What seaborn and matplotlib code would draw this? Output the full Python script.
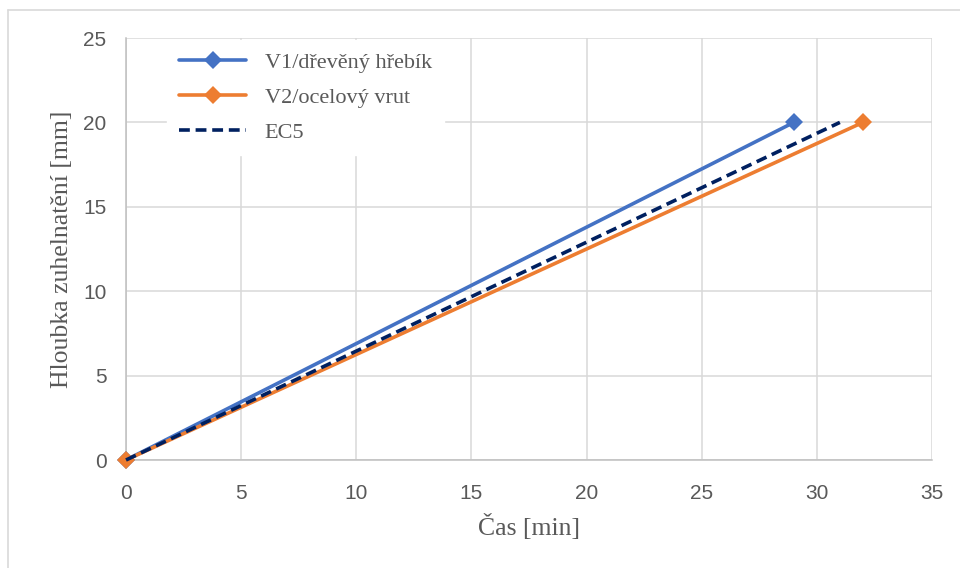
import matplotlib
matplotlib.use("Agg")
import matplotlib.pyplot as plt
import seaborn as sns
import pandas as pd
from matplotlib.lines import Line2D

# Data
v1_time = [0, 29]
v1_depth = [0, 20]
v2_time = [0, 32]
v2_depth = [0, 20]
ec5_time = [0, 31]
ec5_depth = [0, 20]
labels = ["V1/dřevěný hřebík", "V2/ocelový vrut", "EC5"]
x_ticks = [0, 5, 10, 15, 20, 25, 30, 35]
y_ticks = [0, 5, 10, 15, 20, 25]

sns.set_style("white")
plt.rcParams['font.family'] = ['Liberation Sans', 'DejaVu Sans']

fig = plt.figure(figsize=(9.6, 5.68), dpi=100)
ax = fig.add_axes([126/960, 1 - 460/568, 806/960, 422/568])

df1 = pd.DataFrame({"t": v1_time, "d": v1_depth})
df2 = pd.DataFrame({"t": v2_time, "d": v2_depth})
df3 = pd.DataFrame({"t": ec5_time, "d": ec5_depth})

c1, c2, c3 = "#4472C4", "#ED7D31", "#002060"
dash = (0, (3, 1.6))
sns.lineplot(data=df1, x="t", y="d", ax=ax, color=c1, lw=2.6, marker="D",
             markersize=9, markeredgewidth=0, zorder=3)
sns.lineplot(data=df2, x="t", y="d", ax=ax, color=c2, lw=2.6, marker="D",
             markersize=9, markeredgewidth=0, zorder=3)
sns.lineplot(data=df3, x="t", y="d", ax=ax, color=c3, lw=2.6, zorder=4,
             linestyle=dash)

ax.set_xlim(0, 35)
ax.set_ylim(0, 25)
ax.set_xticks(x_ticks)
ax.set_yticks(y_ticks)
ax.grid(True, color="#d9d9d9", lw=1.1)
ax.set_axisbelow(True)
for s in ["top", "right"]:
    ax.spines[s].set_visible(False)
for s in ["left", "bottom"]:
    ax.spines[s].set_color("#bfbfbf")
    ax.spines[s].set_linewidth(1.1)
ax.tick_params(axis="both", length=0, labelsize=15, labelcolor="#595959")
ax.tick_params(axis="y", pad=14)
ax.tick_params(axis="x", pad=17.5)
for lab in ax.get_xticklabels() + ax.get_yticklabels():
    lab.set_clip_on(False)
for line in ax.lines:
    line.set_clip_on(False)

serif = ["Liberation Serif", "DejaVu Serif"]
ax.set_xlabel("Čas [min]", family=serif, fontsize=18.5, color="#595959", labelpad=8)
ax.set_ylabel("Hloubka zuhelnatění [mm]", family=serif, fontsize=18.5, color="#595959", labelpad=7)

handles = [
    Line2D([], [], color=c1, lw=2.6, marker="D", markersize=9, markeredgewidth=0),
    Line2D([], [], color=c2, lw=2.6, marker="D", markersize=9, markeredgewidth=0),
    Line2D([], [], color=c3, lw=2.6, linestyle=dash),
]
leg = ax.legend(handles, labels, loc="upper left",
                bbox_to_anchor=((167 - 126) / 806, 1 - 2 / 422),
                prop={"family": serif, "size": 16}, frameon=True, fancybox=False,
                handlelength=3.0, handletextpad=0.85, labelspacing=0.65,
                borderpad=0.55, borderaxespad=0)
leg.get_frame().set_edgecolor("white")
leg.get_frame().set_facecolor("white")
leg.get_frame().set_alpha(1)
for t in leg.get_texts():
    t.set_color("#595959")

# outer chart frame (Excel chart border)
fig.add_artist(Line2D([8/960, 8/960], [0, 1 - 10/568], transform=fig.transFigure,
                      color="#d9d9d9", lw=1.2))
fig.add_artist(Line2D([8/960, 1], [1 - 10/568, 1 - 10/568], transform=fig.transFigure,
                      color="#d9d9d9", lw=1.2))

fig.savefig("out.png", dpi=100)
